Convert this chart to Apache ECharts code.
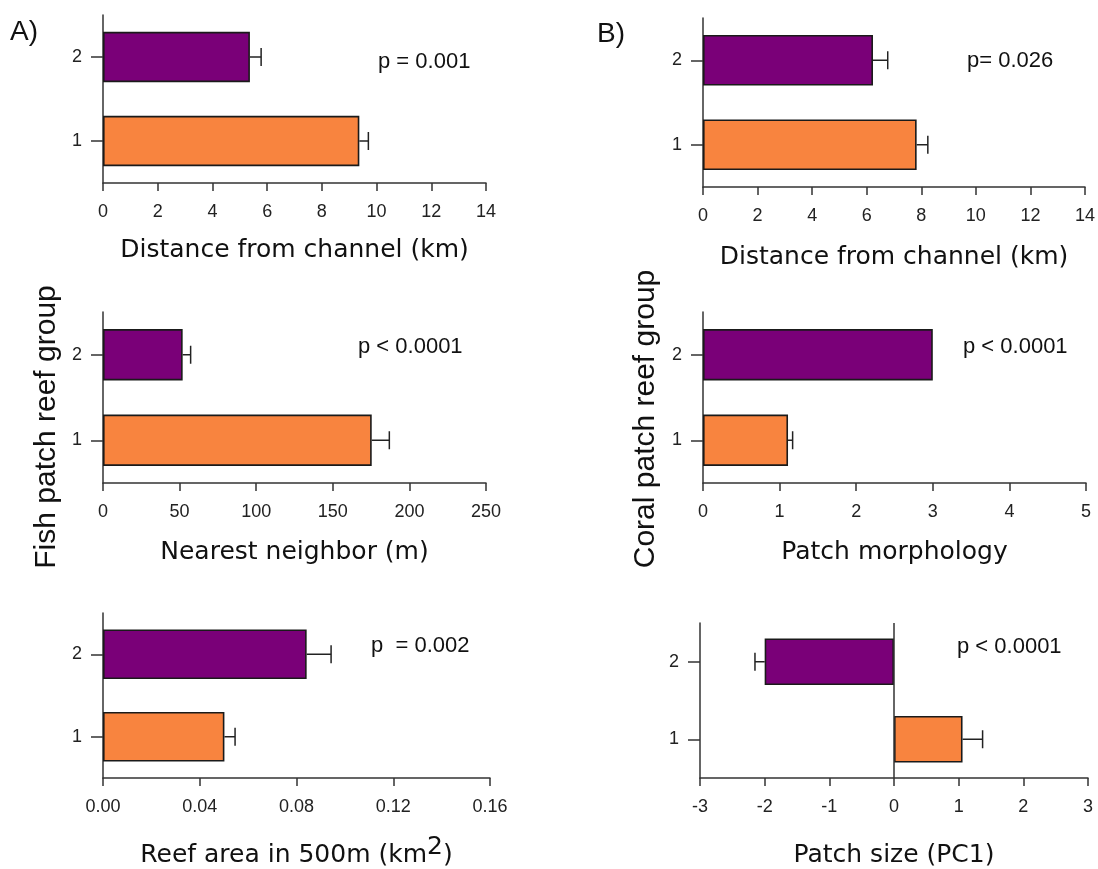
<!DOCTYPE html>
<html>
<head>
<meta charset="utf-8">
<script src="https://cdn.jsdelivr.net/npm/echarts@6/dist/echarts.min.js"></script>
<style>
html,body{margin:0;padding:0;background:#fff;}
#chart{width:1098px;height:869px;}
</style>
</head>
<body>
<div id="chart"></div>
<script>
// ---- data ----
const categories = ['1', '2'];
const groupColors = ['#F8843F', '#7A0078'];

const distA = [9.37, 5.37];
const distAErr = [0.33, 0.41];
const nnA = [175.4, 52.0];
const nnAErr = [11.5, 5.2];
const areaA = [0.0502, 0.0842];
const areaAErr = [0.0044, 0.0101];

const distB = [7.83, 6.23];
const distBErr = [0.41, 0.54];
const morphB = [1.11, 3.0];
const morphBErr = [0.06, 0];
const sizeB = [1.06, -2.0];
const sizeBErr = [0.31, 0.15];

const pLabels = ['p = 0.001', 'p= 0.026', 'p < 0.0001', 'p < 0.0001', 'p  = 0.002', 'p < 0.0001'];
const axisTitles = ['Distance from channel (km)', 'Distance from channel (km)', 'Nearest neighbor (m)', 'Patch morphology', 'Reef area in 500m (km{sup|2})', 'Patch size (PC1)'];
const yTitles = ['Fish patch reef group', 'Coral patch reef group'];
const panelLetters = ['A)', 'B)'];

// ---- layout ----
const grids = [
  {left: 103, top: 15, width: 383, height: 168},
  {left: 703, top: 18, width: 383, height: 169},
  {left: 103, top: 312, width: 383, height: 171},
  {left: 703, top: 312, width: 383, height: 171},
  {left: 103, top: 613, width: 387, height: 168},
  {left: 700, top: 623, width: 388, height: 157}
];
const nameGaps = [55, 58, 57, 57, 57, 65];
const xRanges = [
  {min: 0, max: 14, interval: 2, dec: 0},
  {min: 0, max: 14, interval: 2, dec: 0},
  {min: 0, max: 250, interval: 50, dec: 0},
  {min: 0, max: 5, interval: 1, dec: 0},
  {min: 0, max: 0.16, interval: 0.04, dec: 2},
  {min: -3, max: 3, interval: 1, dec: 0}
];
const panels = [
  [distA, distAErr], [distB, distBErr], [nnA, nnAErr],
  [morphB, morphBErr], [areaA, areaAErr], [sizeB, sizeBErr]
];

const axisColor = '#333';
const tickFont = 'Liberation Sans, Arial, sans-serif';
const nameFont = 'DejaVu Sans, Verdana, sans-serif';

const xAxes = [], yAxes = [], series = [];
grids.forEach((g, i) => {
  const r = xRanges[i];
  xAxes.push({
    type: 'value', gridIndex: i, min: r.min, max: r.max, interval: r.interval,
    splitLine: {show: false},
    axisLine: {show: true, onZero: false, lineStyle: {color: axisColor, width: 1.5}},
    axisTick: {show: true, inside: false, length: 8, lineStyle: {color: axisColor, width: 1.5}},
    axisLabel: {color: '#222', fontFamily: tickFont, fontSize: 18, margin: 20,
      formatter: v => Number(v).toFixed(r.dec)},
    name: axisTitles[i], nameLocation: 'middle', nameGap: nameGaps[i],
    nameTextStyle: {color: '#111', fontFamily: nameFont, fontSize: 25,
      rich: {sup: {fontFamily: nameFont, fontSize: 25, color: '#111', padding: [0, 0, 16, 0]}}}
  });
  yAxes.push({
    type: 'category', gridIndex: i, data: categories,
    axisLine: {show: true, onZero: false, lineStyle: {color: axisColor, width: 1.5}},
    axisTick: {show: true, alignWithLabel: true, length: 12, lineStyle: {color: axisColor, width: 1.5}},
    axisLabel: {color: '#222', fontFamily: tickFont, fontSize: 18, margin: 21},
    splitLine: {show: false}
  });

  const vals = panels[i][0], errs = panels[i][1];
  const bar = {
    type: 'bar', xAxisIndex: i, yAxisIndex: i, barWidth: '60%',
    data: vals.map((v, k) => ({value: v, itemStyle: {color: groupColors[k]}})),
    itemStyle: {borderColor: '#1a1a1a', borderWidth: 1.6},
    silent: true, z: 2
  };
  if (r.min < 0) {
    bar.markLine = {
      silent: true, symbol: ['none', 'none'], label: {show: false},
      lineStyle: {color: axisColor, width: 1.5, type: 'solid'},
      data: [{xAxis: 0}]
    };
  }
  series.push(bar);
  series.push({
    type: 'custom', xAxisIndex: i, yAxisIndex: i, z: 5, silent: true,
    data: vals.map((v, k) => [v, k, errs[k]]),
    encode: {x: 0, y: 1},
    renderItem: function (params, api) {
      const v = api.value(0), c = api.value(1), e = api.value(2);
      if (!e) return null;
      const end = v + (v < 0 ? -e : e);
      const p0 = api.coord([v, c]);
      const p1 = api.coord([end, c]);
      const cap = 9;
      const st = {stroke: '#222', lineWidth: 1.5};
      return {type: 'group', children: [
        {type: 'line', shape: {x1: p0[0], y1: p0[1], x2: p1[0], y2: p1[1]}, style: st},
        {type: 'line', shape: {x1: p1[0], y1: p1[1] - cap, x2: p1[0], y2: p1[1] + cap}, style: st}
      ]};
    }
  });
});

// p-value annotations, panel letters, shared y titles
const pPos = [[378, 62], [967, 61], [358, 347], [963, 347], [371, 646], [957, 647]];
const graphics = pLabels.map((t, i) => ({
  type: 'text', x: pPos[i][0], y: pPos[i][1],
  style: {text: t, fill: '#111', font: '22px "Liberation Sans", Arial, sans-serif', verticalAlign: 'middle', align: 'left'}
}));
const letterPos = [[10, 32], [597, 34]];
panelLetters.forEach((t, i) => graphics.push({
  type: 'text', x: letterPos[i][0], y: letterPos[i][1],
  style: {text: t, fill: '#111', font: '28px "Liberation Sans", Arial, sans-serif', verticalAlign: 'middle', align: 'left'}
}));
const yTitlePos = [[47, 427], [646, 419]];
yTitles.forEach((t, i) => graphics.push({
  type: 'text', x: yTitlePos[i][0], y: yTitlePos[i][1], rotation: Math.PI / 2,
  style: {text: t, fill: '#111', font: '30px "Liberation Sans", Arial, sans-serif', verticalAlign: 'middle', align: 'center'}
}));

const chart = echarts.init(document.getElementById('chart'), null, {renderer: 'canvas'});
chart.setOption({
  backgroundColor: '#fff',
  animation: false,
  grid: grids.map(g => Object.assign({containLabel: false}, g)),
  xAxis: xAxes,
  yAxis: yAxes,
  series: series,
  graphic: graphics
});
</script>
</body>
</html>
